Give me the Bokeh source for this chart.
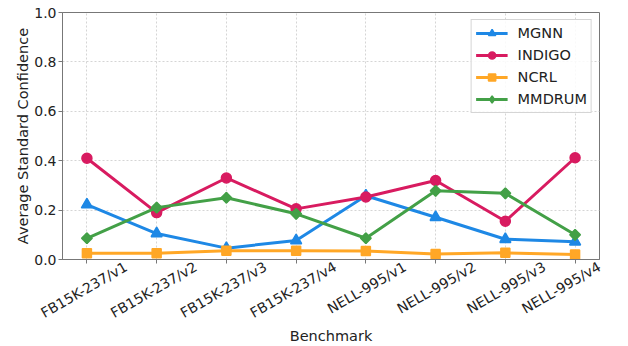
import math
from bokeh.plotting import figure
from bokeh.models import FixedTicker, Legend, LegendItem, LinearAxis, Range1d
from bokeh.embed import file_html
from bokeh.resources import INLINE

benchmarks = ["FB15K-237/v1", "FB15K-237/v2", "FB15K-237/v3", "FB15K-237/v4",
              "NELL-995/v1", "NELL-995/v2", "NELL-995/v3", "NELL-995/v4"]
mgnn = [0.222, 0.105, 0.046, 0.077, 0.258, 0.171, 0.082, 0.072]
indigo = [0.410, 0.190, 0.330, 0.205, 0.253, 0.320, 0.155, 0.412]
ncrl = [0.025, 0.025, 0.035, 0.035, 0.034, 0.022, 0.027, 0.020]
mmdrum = [0.086, 0.210, 0.250, 0.185, 0.086, 0.278, 0.268, 0.100]
y_ticks = [0.0, 0.2, 0.4, 0.6, 0.8, 1.0]

xs = list(range(len(benchmarks)))
FONT = "DejaVu Sans"
TXT = "#222222"
SPINE = "#777777"
LABEL_SHIFT = 0.56  # rotated labels are right-anchored by Bokeh; shift so they sit centred
PAD = 0.35
x_max = len(benchmarks) - 1 + PAD

p = figure(frame_width=537, frame_height=247,
           x_range=Range1d(-PAD, x_max), y_range=Range1d(0, 1),
           output_backend="svg", toolbar_location=None,
           min_border_left=62, min_border_top=12, min_border_right=29, min_border_bottom=87)
p.background_fill_color = "white"
p.outline_line_color = SPINE

# tick axis (tick marks only)
tick_axis = p.below[0]
tick_axis.ticker = FixedTicker(ticks=xs)
tick_axis.major_label_overrides = {i: "" for i in xs}
tick_axis.major_label_standoff = 0
tick_axis.major_tick_out = 4
tick_axis.major_tick_in = 0
tick_axis.minor_tick_line_color = None
tick_axis.axis_line_color = SPINE
tick_axis.major_tick_line_color = SPINE

# label axis (rotated category names + axis title); positions must stay inside the range
label_ticks = [min(i + LABEL_SHIFT, x_max - 0.001) for i in xs]
label_axis = LinearAxis(ticker=FixedTicker(ticks=label_ticks),
                        major_label_overrides={t: b for t, b in zip(label_ticks, benchmarks)},
                        major_label_orientation=math.pi / 6)
label_axis.axis_line_color = None
label_axis.major_tick_line_color = None
label_axis.minor_tick_line_color = None
label_axis.major_tick_out = 0
label_axis.major_tick_in = 0
label_axis.major_label_standoff = 2
label_axis.major_label_text_font = FONT
label_axis.major_label_text_font_size = "14px"
label_axis.major_label_text_color = TXT
label_axis.axis_label = "Benchmark"
label_axis.axis_label_standoff = -3
label_axis.axis_label_text_font = FONT
label_axis.axis_label_text_font_size = "14.5px"
label_axis.axis_label_text_font_style = "normal"
label_axis.axis_label_text_color = TXT
p.add_layout(label_axis, "below")

ya = p.yaxis[0]
ya.ticker = FixedTicker(ticks=y_ticks)
ya.major_label_overrides = {t: f"{t:.1f}" for t in y_ticks}
ya.axis_label = "Average Standard Confidence"
ya.axis_label_standoff = 0
ya.axis_label_text_font = FONT
ya.axis_label_text_font_size = "14.5px"
ya.axis_label_text_font_style = "normal"
ya.axis_label_text_color = TXT
ya.major_label_text_font = FONT
ya.major_label_text_font_size = "14px"
ya.major_label_text_color = TXT
ya.major_label_standoff = 2
ya.axis_line_color = SPINE
ya.major_tick_line_color = SPINE
ya.minor_tick_line_color = None
ya.major_tick_out = 4
ya.major_tick_in = 0

p.xgrid.ticker = FixedTicker(ticks=xs)
p.grid.grid_line_color = "#d5d5d5"
p.grid.grid_line_dash = "2 2"
p.grid.grid_line_width = 1

series = [
    ("MGNN", mgnn, "#1E88E5", "triangle", 11),
    ("INDIGO", indigo, "#D81B60", "circle", 10),
    ("NCRL", ncrl, "#FFA726", "square", 9),
    ("MMDRUM", mmdrum, "#43A047", "diamond", None),
]
items = []
for name, vals, color, marker, size in series:
    r1 = p.line(xs, vals, line_color=color, line_width=3)
    if size is None:
        # narrow diamond (used as legend swatch), covered by a square turned 45 degrees
        r2 = p.scatter(xs, vals, marker="diamond", size=10,
                       fill_color=color, line_color=color, line_width=1.5)
        p.rect(xs, vals, width=7.5, height=7.5, width_units="screen",
               height_units="screen", angle=math.pi / 4,
               fill_color=color, line_color=color, line_width=1.5)
    else:
        r2 = p.scatter(xs, vals, marker=marker, size=size,
                       fill_color=color, line_color=color, line_width=1.5)
    items.append(LegendItem(label=name, renderers=[r1, r2]))

legend = Legend(items=items, location="top_right")
legend.label_text_font = FONT
legend.label_text_font_size = "14.5px"
legend.label_text_color = TXT
legend.border_line_color = "#d5d5d5"
legend.border_line_alpha = 1
legend.background_fill_alpha = 0.85
legend.margin = 7
legend.padding = 4
legend.spacing = 4
legend.glyph_width = 32
legend.glyph_height = 18
legend.label_standoff = 10
p.add_layout(legend)

open("out.html", "w").write(file_html(p, INLINE))
